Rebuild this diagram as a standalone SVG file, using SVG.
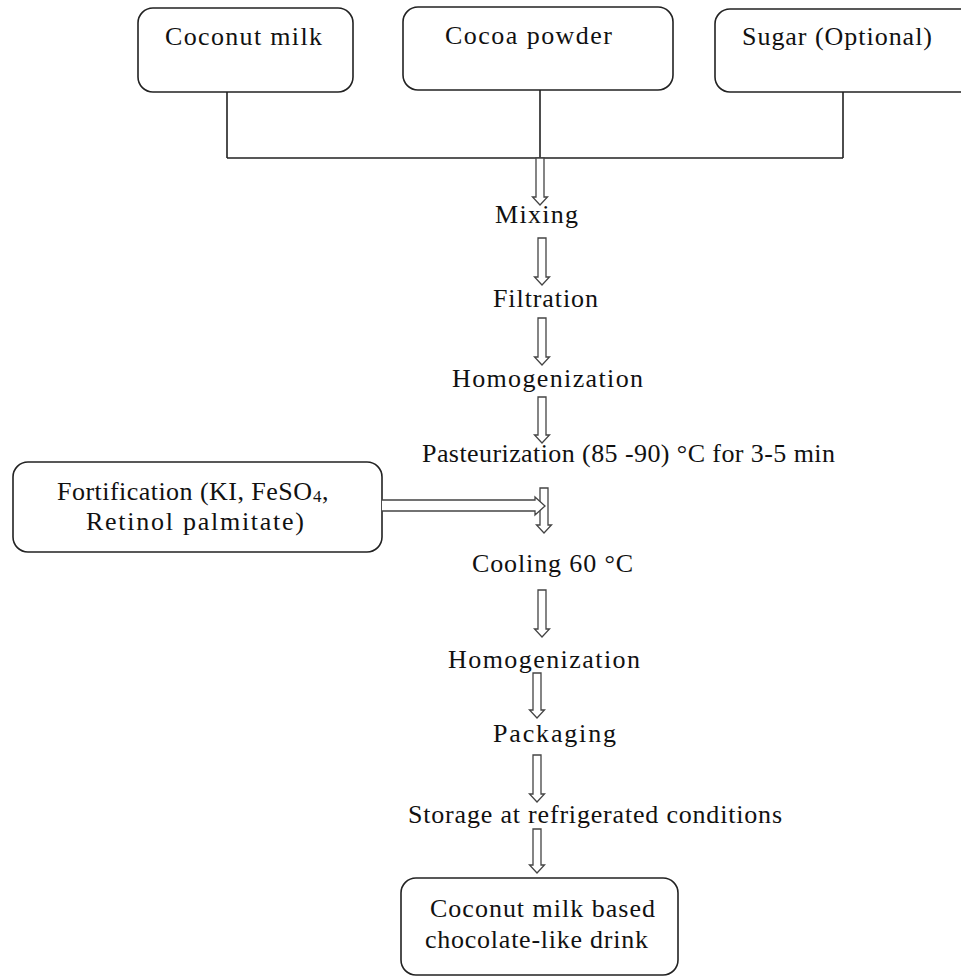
<svg xmlns="http://www.w3.org/2000/svg" width="961" height="977" viewBox="0 0 961 977">
<style>
.box{fill:#fff;stroke:#222;stroke-width:1.6}
.t{font-family:"Liberation Serif","Times New Roman",serif;font-size:26px;fill:#111}
.sub{font-family:"Liberation Serif","Times New Roman",serif;font-size:17px;fill:#111}
.ln{fill:none;stroke:#222;stroke-width:1.6}
.ar{fill:#fff;stroke:#444;stroke-width:1.3;stroke-linejoin:miter}
</style>
<rect width="961" height="977" fill="#fff"/>
<g id="coconut-milk">
<rect class="box" x="138" y="8" width="215" height="84" rx="15"/>
<text class="t" x="165" y="45" textLength="157">Coconut milk</text>
</g>
<g id="cocoa-powder">
<rect class="box" x="403" y="7" width="270" height="83" rx="15"/>
<text class="t" x="445" y="44" textLength="167">Cocoa powder</text>
</g>
<g id="sugar">
<rect class="box" x="715" y="9" width="270" height="83" rx="15"/>
<text class="t" x="742" y="45" textLength="190">Sugar (Optional)</text>
</g>
<g id="fortification">
<rect class="box" x="13" y="462" width="369" height="90" rx="15"/>
<text class="t" x="57" y="500" textLength="255">Fortification (KI, FeSO</text>
<text class="sub" x="313" y="502">4</text>
<text class="t" x="322" y="500">,</text>
<text class="t" x="86" y="530" textLength="218">Retinol palmitate)</text>
</g>
<g id="steps">
<text id="mixing" class="t" x="495" y="223" textLength="83">Mixing</text>
<text id="filtration" class="t" x="493" y="307" textLength="105">Filtration</text>
<text id="homogenization1" class="t" x="452" y="387" textLength="191">Homogenization</text>
<text id="pasteurization" class="t" x="422" y="462" textLength="413">Pasteurization (85 -90) °C for 3-5 min</text>
<text id="cooling" class="t" x="472" y="572" textLength="161">Cooling 60 °C</text>
<text id="homogenization2" class="t" x="448" y="668" textLength="192">Homogenization</text>
<text id="packaging" class="t" x="493" y="742" textLength="123">Packaging</text>
<text id="storage" class="t" x="408" y="823" textLength="374">Storage at refrigerated conditions</text>
</g>
<g id="final-product">
<rect class="box" x="401" y="878" width="277" height="97" rx="15"/>
<text class="t" x="430" y="917" textLength="225">Coconut milk based</text>
<text class="t" x="425" y="948" textLength="223">chocolate-like drink</text>
</g>
<g id="connectors">
<path class="ln" d="M227,92 V158 M540,90 V158 M843,92 V158 M227,158 H843"/>
<path class="ar" d="M536,158 H544 V197 H547.5 L540,205 L532.5,197 H536 Z"/>
<path class="ar" d="M538,238 H546 V277 H549.5 L542,285 L534.5,277 H538 Z"/>
<path class="ar" d="M538,318 H546 V357 H549.5 L542,365 L534.5,357 H538 Z"/>
<path class="ar" d="M538,397 H546 V435 H549.5 L542,443 L534.5,435 H538 Z"/>
<path class="ar" d="M540,488 H548 V525 H551.5 L544,533 L536.5,525 H540 Z"/>
<path class="ar" d="M382,500 H535 V497 L545,506 L535,515 V511 H382"/>
<path class="ar" d="M538,590 H546 V629 H549.5 L542,637 L534.5,629 H538 Z"/>
<path class="ar" d="M533,673 H541 V710 H544.5 L537,718 L529.5,710 H533 Z"/>
<path class="ar" d="M533,755 H541 V794 H544.5 L537,802 L529.5,794 H533 Z"/>
<path class="ar" d="M533,829 H541 V865 H544.5 L537,873 L529.5,865 H533 Z"/>
</g>
</svg>
